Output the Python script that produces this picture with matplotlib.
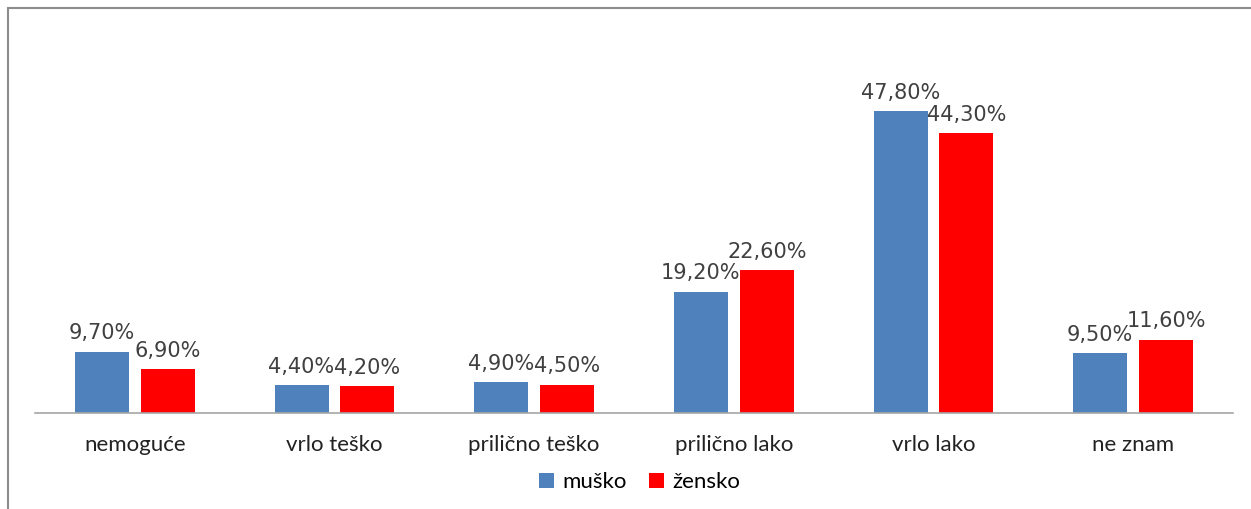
import matplotlib.pyplot as plt
import numpy as np
from matplotlib.patches import Rectangle

categories = ["nemoguće", "vrlo teško", "prilično teško", "prilično lako", "vrlo lako", "ne znam"]
musko = [9.7, 4.4, 4.9, 19.2, 47.8, 9.5]
zensko = [6.9, 4.2, 4.5, 22.6, 44.3, 11.6]
series_names = ["muško", "žensko"]

BLUE = "#4F81BD"
RED = "#FF0000"

fig = plt.figure(figsize=(12.51, 5.09), dpi=100)
W, H = 1251, 509

# outer chart frame (runs off the bottom/right of the picture)
fig.patches.append(Rectangle((8 / W, -0.1), 1.2, (H - 8) / H + 0.1,
                             transform=fig.transFigure, fill=False,
                             edgecolor="#8c8c8c", linewidth=1.5))

ax = fig.add_axes([35 / W, (H - 413) / H, 1198 / W, 373 / H])
x = np.arange(len(categories))
w = 0.27
off = 0.165
ax.bar(x - off, musko, w, color=BLUE, label=series_names[0])
ax.bar(x + off, zensko, w, color=RED, label=series_names[1])

for xi, v in zip(x - off, musko):
    ax.text(xi, v + 1.3, f"{v:.2f}%".replace(".", ","), ha="center", va="bottom",
            fontsize=15, color="#404040", family="DejaVu Sans")
for xi, v in zip(x + off, zensko):
    ax.text(xi, v + 1.3, f"{v:.2f}%".replace(".", ","), ha="center", va="bottom",
            fontsize=15, color="#404040", family="DejaVu Sans")

ax.set_xlim(-0.5, len(categories) - 0.5)
ax.set_ylim(0, 373 / 6.32)
ax.set_yticks([])
ax.set_xticks(x)
ax.set_xticklabels(categories, fontsize=16, family="Lato", color="#222222")
ax.tick_params(axis="x", length=0, pad=16)
for s in ["top", "right", "left"]:
    ax.spines[s].set_visible(False)
ax.spines["bottom"].set_color("#a6a6a6")
ax.spines["bottom"].set_linewidth(1.2)

leg = fig.legend(loc="center", bbox_to_anchor=(640 / W, (H - 482) / H), ncol=2,
                 frameon=False, prop={"family": "Lato", "size": 16},
                 handlelength=0.65, handleheight=0.65, handletextpad=0.4,
                 columnspacing=1.0)

fig.savefig("out.png", dpi=100, facecolor="white")
